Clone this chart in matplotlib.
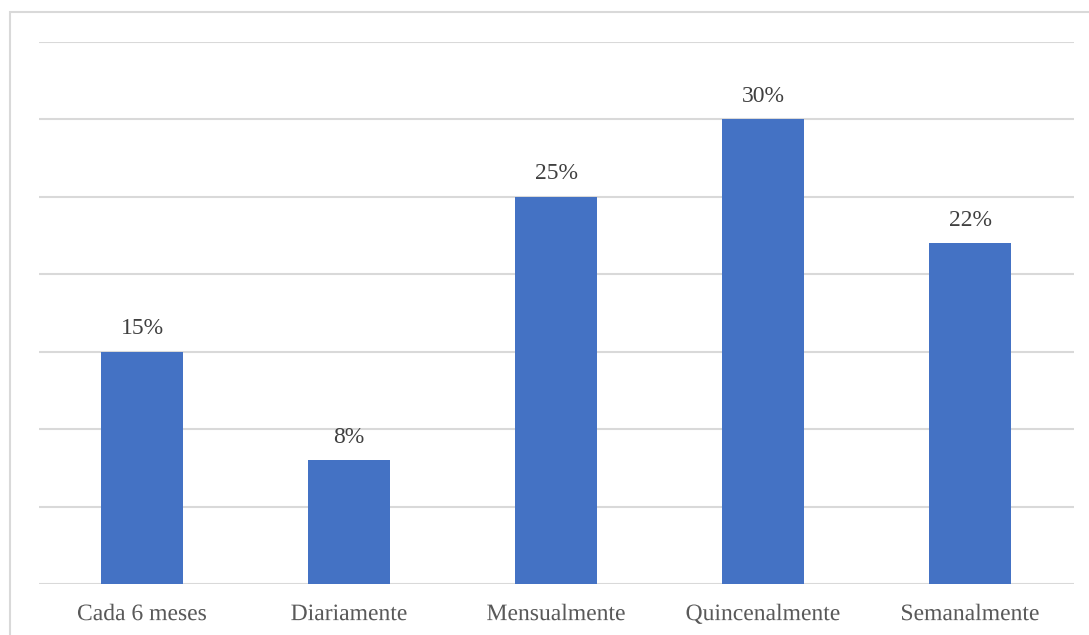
import matplotlib.pyplot as plt
import matplotlib.patheffects as pe
from matplotlib.patches import Rectangle

# frequency categories and their shares (%)
categories = ["Cada 6 meses", "Diariamente", "Mensualmente", "Quincenalmente", "Semanalmente"]
values = [15, 8, 25, 30, 22]
labels = ["15%", "8%", "25%", "30%", "22%"]

plt.rcParams['font.family'] = ['Liberation Serif', 'DejaVu Serif']

W, H = 1089, 635
fig = plt.figure(figsize=(W / 100, H / 100), dpi=100)

# light frame around the chart (runs off the right and bottom edges)
fig.patches.append(Rectangle((10 / W, -0.05), 1.1, 1.05 - 12 / H,
                             transform=fig.transFigure, fill=False,
                             edgecolor="#d9d9d9", linewidth=1.5))

ax = fig.add_axes([38.5 / W, 51 / H, 1035 / W, 542 / H])
x = range(len(categories))
bars = ax.bar(x, values, width=0.4, color="#4472C4", zorder=3)

ax.set_ylim(0, 35)
ax.set_xlim(-0.5, len(categories) - 0.5)
ax.set_yticks(range(0, 36, 5))
ax.yaxis.grid(True, color="#d9d9d9", linewidth=1.5, zorder=0)
ax.tick_params(axis='y', left=False, labelleft=False)
ax.tick_params(axis='x', length=0, labelbottom=False)
ax.set_xticks(list(x))
for s in ax.spines.values():
    s.set_visible(False)

# category names, all on one baseline below the axis
# (drawn as paths so the "Q" tail doesn't push its label down)
for i, cat in enumerate(categories):
    ax.annotate(cat, (i, 0), xytext=(0, -26), textcoords="offset points",
                ha="center", va="baseline", fontsize=17, color="#595959",
                path_effects=[pe.Normal()])

for b, lab in zip(bars, labels):
    ax.annotate(lab, (b.get_x() + b.get_width() / 2, b.get_height()),
                xytext=(0, 9), textcoords="offset points", ha="center", va="bottom",
                fontsize=17, color="#404040")

fig.savefig("out.png", dpi=100)
